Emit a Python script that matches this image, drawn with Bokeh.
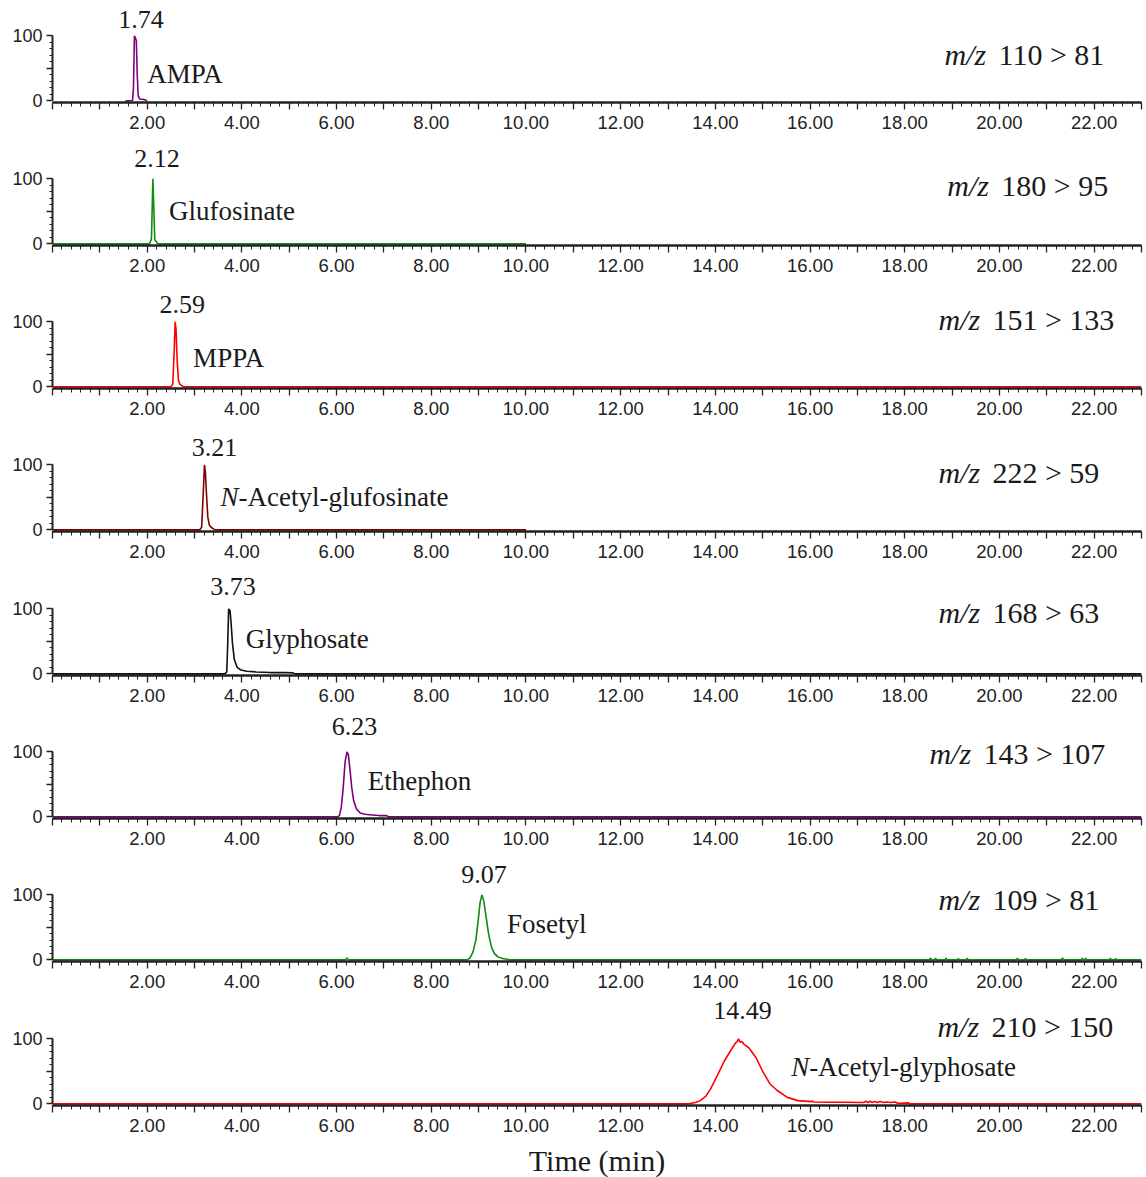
import math
from bokeh.plotting import figure
from bokeh.models import Range1d, FixedTicker, Label
from bokeh.layouts import column
from bokeh.embed import file_html
from bokeh.resources import INLINE
from bokeh.core.properties import value

# ---------------- data ----------------
compounds = ["AMPA", "Glufosinate", "MPPA", "N-Acetyl-glufosinate",
             "Glyphosate", "Ethephon", "Fosetyl", "N-Acetyl-glyphosate"]
retention_times = [1.74, 2.12, 2.59, 3.21, 3.73, 6.23, 9.07, 14.49]
precursor_ions = [110, 180, 151, 222, 168, 143, 109, 210]
product_ions = [81, 95, 133, 59, 63, 107, 81, 150]

x_ticks = list(range(0, 24))
x_tick_labels = ["", "", "2.00", "", "4.00", "", "6.00", "", "8.00", "", "10.00", "",
                 "12.00", "", "14.00", "", "16.00", "", "18.00", "", "20.00", "", "22.00", ""]
y_ticks = [0, 50, 100]
y_tick_labels = ["0", "", "100"]
x_title = "Time (min)"

ampa_time = [1.54, 1.69, 1.71, 1.73, 1.75, 1.77, 1.79, 1.81, 1.84, 1.90, 1.96, 2.00]
ampa_int = [0, 0.5, 20, 100, 97, 93, 40, 8, 3, 2.5, 1.5, 0]

gluf_time = [0.0, 2.05, 2.09, 2.12, 2.14, 2.16, 2.19, 2.22, 10.0]
gluf_int = [0, 0, 8, 100, 55, 6, 4, 0, 0]

mppa_time = [0.0, 2.50, 2.54, 2.57, 2.59, 2.61, 2.63, 2.66, 2.69, 2.73, 2.77, 23.0]
mppa_int = [0, 0, 4, 55, 100, 88, 45, 10, 4, 2, 0, 0]

nagf_time = [0.0, 3.11, 3.15, 3.18, 3.21, 3.23, 3.25, 3.28, 3.31, 3.35, 3.40, 3.44, 10.0]
nagf_int = [0, 0, 4, 50, 100, 88, 58, 20, 8, 4, 1.5, 0, 0]

glyp_time = [0.0, 3.64, 3.68, 3.70, 3.72, 3.75, 3.77, 3.80, 3.84, 3.90, 3.98, 4.10,
             4.30, 4.60, 4.90, 5.08, 5.12, 23.0]
glyp_int = [0, 0, 3, 45, 100, 97, 80, 48, 22, 10, 6, 4, 3, 2, 2, 1.5, 0, 0]

ethe_time = [0.0, 6.02, 6.06, 6.10, 6.14, 6.18, 6.22, 6.25, 6.28, 6.32, 6.36, 6.42,
             6.50, 6.60, 6.75, 6.90, 7.05, 7.10, 23.0]
ethe_int = [0, 0, 2, 15, 45, 85, 100, 95, 75, 45, 25, 12, 6, 4, 3, 2, 2, 0, 0]

fose_time = [0.0, 6.19, 6.22, 6.25, 8.76, 8.82, 8.88, 8.94, 8.99, 9.03, 9.07, 9.11,
             9.16, 9.21, 9.27, 9.33, 9.40, 9.50, 9.60, 9.65,
             18.52, 18.54, 18.56, 18.63, 18.65, 18.67, 18.85, 18.87, 18.89,
             19.11, 19.13, 19.15, 19.30, 19.32, 19.34, 20.36, 20.38, 20.40,
             20.53, 20.55, 20.57, 21.31, 21.33, 21.35, 21.73, 21.75, 21.77,
             21.80, 21.82, 21.84, 22.32, 22.34, 22.36, 22.43, 22.45, 22.47, 23.0]
fose_int = [0, 0, 3, 0, 0, 3, 12, 30, 60, 88, 100, 90,
            65, 40, 20, 10, 5, 2, 1, 0,
            0, 3, 0, 0, 2.5, 0, 0, 2.5, 0,
            0, 2, 0, 0, 2.5, 0, 0, 2.5, 0,
            0, 2, 0, 0, 3, 0, 0, 2.5, 0,
            0, 2.5, 0, 0, 2.5, 0, 0, 2, 0, 0]

nagp_time = [0.0, 13.40, 13.46, 13.58, 13.68, 13.80, 13.90, 14.05, 14.19, 14.34,
             14.42, 14.46, 14.49, 14.52, 14.56, 14.60, 14.71, 14.86, 15.00, 15.15,
             15.30, 15.52, 15.74, 16.03, 16.05, 16.07, 16.40, 16.69, 17.13, 17.18,
             17.22, 17.27, 17.31, 17.36, 17.42, 17.48, 17.55, 17.62, 17.70, 17.80,
             17.85, 17.90, 18.08, 18.10, 23.0]
nagp_int = [0, 0, 0.5, 2, 5, 12, 23, 45, 66, 84,
            93, 96, 100, 95, 96, 92, 86, 71, 50, 31,
            21, 10, 5, 3.5, 4.5, 3, 2.5, 2.5, 2.2, 4,
            2, 4, 2, 3.5, 2, 3.5, 2, 3, 2, 3,
            1, 1, 1.5, 0, 0]

trace_times = [ampa_time, gluf_time, mppa_time, nagf_time, glyp_time, ethe_time, fose_time, nagp_time]
trace_ints = [ampa_int, gluf_int, mppa_int, nagf_int, glyp_int, ethe_int, fose_int, nagp_int]

# ---------------- style / layout ----------------
trace_colors = ["#800080", "#108a10", "#ff0000", "#800000", "#111111", "#800080", "#108a10", "#ff0000"]
name_pos = [(2.00, 42), (2.46, 50), (2.97, 45), (3.55, 51), (4.08, 53), (6.66, 55), (9.60, 55), (15.60, 56)]
rt_label_pos = [(125, 6), (132, 4), (127, 7), (127, 10), (134, 4), (139.5, 7), (132, 2), (143, 4)]
mz_pos = [(18.84, 72), (18.90, 90), (18.71, 104), (18.71, 89), (18.71, 94), (18.52, 98), (18.71, 93.5), (18.69, 118.5)]
frame_heights = [102, 108, 108, 108, 109, 110, 110, 111]
bottom_borders = [35, 35, 35, 35, 33, 33, 33, 70]

SERIF = "Liberation Serif"
SANS = "Liberation Sans"
TXT = "#1a1a1a"
AX = "#222222"
K = 0.65          # px per % unit
Y0 = -2.5

figs = []
for i in range(8):
    last = i == 7
    fh = frame_heights[i]
    ytop = Y0 + fh / K
    p = figure(frame_width=1089, frame_height=fh,
               x_range=Range1d(0, 23), y_range=Range1d(Y0, ytop),
               output_backend="svg", toolbar_location=None,
               min_border_left=52, min_border_right=5, min_border_top=0,
               min_border_bottom=bottom_borders[i])
    p.outline_line_color = None
    p.grid.visible = False
    p.background_fill_color = "white"
    p.border_fill_color = "white"

    xa = p.xaxis[0]
    xa.ticker = FixedTicker(ticks=x_ticks, minor_ticks=[round(0.2 * j, 1) for j in range(116)])
    xa.major_label_overrides = {t: lab for t, lab in zip(x_ticks, x_tick_labels)}
    xa.axis_line_width = 2.5
    xa.axis_line_color = AX
    xa.major_tick_line_color = AX
    xa.minor_tick_line_color = AX
    xa.major_tick_line_width = 1.3
    xa.minor_tick_line_width = 1.0
    xa.major_tick_in = 0
    xa.major_tick_out = 7
    xa.minor_tick_in = 0
    xa.minor_tick_out = 4
    xa.major_label_standoff = 6
    xa.major_label_text_font = SANS
    xa.major_label_text_font_size = "18.5px"
    xa.major_label_text_color = AX

    ya = p.yaxis[0]
    ya.ticker = FixedTicker(ticks=y_ticks, minor_ticks=list(range(0, 101, 10)))
    ya.major_label_overrides = {t: lab for t, lab in zip(y_ticks, y_tick_labels)}
    ya.bounds = (0, 100)
    ya.axis_line_width = 2
    ya.axis_line_color = AX
    ya.major_tick_line_color = AX
    ya.minor_tick_line_color = AX
    ya.major_tick_line_width = 1.3
    ya.major_tick_in = 0
    ya.major_tick_out = 6
    ya.minor_tick_in = 0
    ya.minor_tick_out = 3
    ya.major_label_standoff = 4
    ya.major_label_text_font = SANS
    ya.major_label_text_font_size = "18px"
    ya.major_label_text_color = AX

    p.add_layout(Label(x=0, y=50, x_offset=-14, text="%", angle=math.pi / 2,
                       text_align="center", text_baseline="middle",
                       text_font=SANS, text_font_size="18px", text_color=AX))

    # trace
    p.line(trace_times[i], trace_ints[i], line_color=trace_colors[i], line_width=1.6)

    # retention time label
    ly, ldx = rt_label_pos[i]
    p.text(x=[retention_times[i]], y=[ly], text=["%.2f" % retention_times[i]],
           x_offset=ldx, text_font=value(SERIF), text_font_size="26px",
           text_align="center", text_baseline="middle", text_color=TXT)

    # compound name (italic N prefix)
    nx, ny = name_pos[i]
    name = compounds[i]
    if name.startswith("N-"):
        p.text(x=[nx], y=[ny], text=["N"], text_font=value(SERIF), text_font_size="27px",
               text_font_style="italic", text_align="left", text_baseline="middle", text_color=TXT)
        p.text(x=[nx], y=[ny], text=[name[1:]], x_offset=18, text_font=value(SERIF),
               text_font_size="27px", text_align="left", text_baseline="middle", text_color=TXT)
    else:
        p.text(x=[nx], y=[ny], text=[name], text_font=value(SERIF), text_font_size="27px",
               text_align="left", text_baseline="middle", text_color=TXT)

    # m/z transition
    mx, my = mz_pos[i]
    p.text(x=[mx], y=[my], text=["m/z"], text_font=value(SERIF), text_font_size="30px",
           text_font_style="italic", text_align="left", text_baseline="middle", text_color=TXT)
    p.text(x=[mx], y=[my], text=["%d > %d" % (precursor_ions[i], product_ions[i])],
           x_offset=54, text_font=value(SERIF), text_font_size="30px",
           text_align="left", text_baseline="middle", text_color=TXT)

    if last:
        xa.axis_label = x_title
        xa.axis_label_text_font = SERIF
        xa.axis_label_text_font_size = "30px"
        xa.axis_label_text_font_style = "normal"
        xa.axis_label_text_color = TXT
        xa.axis_label_standoff = 9
    figs.append(p)

layout = column(*figs, spacing=0)
open("out.html", "w").write(file_html(layout, INLINE))
